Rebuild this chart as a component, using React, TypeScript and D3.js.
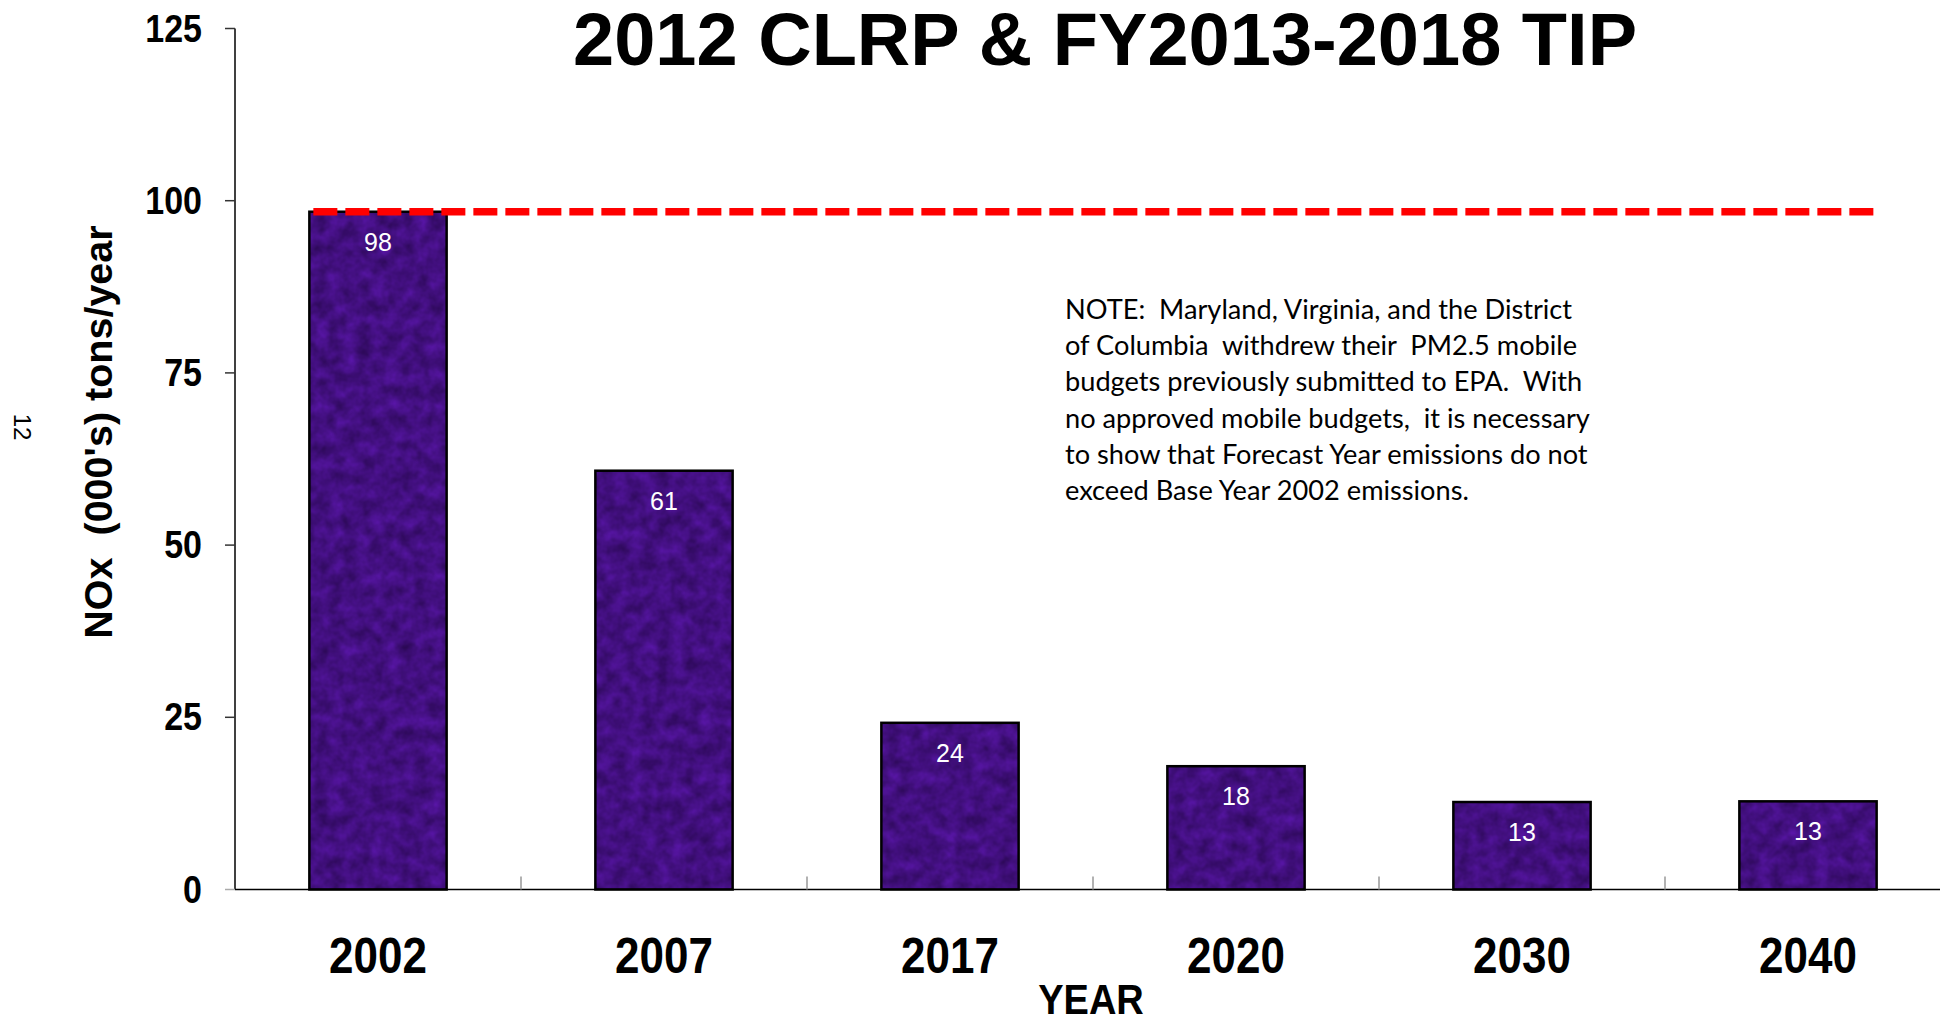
import * as d3 from 'd3';

const YEARS = ['2002', '2007', '2017', '2020', '2030', '2040'];
const NOX = [98.4, 60.8, 24.2, 17.9, 12.7, 12.8];
const BASE_YEAR_LEVEL = 98.4;
const Y_TICKS = [0, 25, 50, 75, 100, 125];
const TITLE = '2012 CLRP & FY2013-2018 TIP';
const NOTE_LINES = [
  'NOTE:  Maryland, Virginia, and the District',
  'of Columbia  withdrew their  PM2.5 mobile',
  'budgets previously submitted to EPA.  With',
  'no approved mobile budgets,  it is necessary',
  'to show that Forecast Year emissions do not',
  'exceed Base Year 2002 emissions.',
];

const W = 1940;
const H = 1019;
const ARIAL = '"Liberation Sans", Arial, sans-serif';

export default function App() {
  const x = d3.scaleBand<string>()
    .domain(YEARS)
    .range([235, 235 + 286 * YEARS.length])
    .paddingInner(0.52)
    .paddingOuter(0.26);
  const y = d3.scaleLinear().domain([0, 125]).range([889.5, 28.5]);
  const step = x.step();
  const x0 = x.range()[0];

  return (
    <svg width={W} height={H} style={{ position: 'absolute', left: 0, top: 0, background: '#fff' }}>
      <defs>
        {/* mottled purple fill, like the office "purple mesh" texture */}
        <filter
          id="purpleTex"
          x="0"
          y="0"
          width="1"
          height="1"
          filterUnits="objectBoundingBox"
          colorInterpolationFilters="sRGB"
        >
          <feTurbulence type="fractalNoise" baseFrequency="0.07" numOctaves="3" seed="11" result="noise" />
          <feColorMatrix
            in="noise"
            type="matrix"
            values="0.2 0 0 0 0.16  0.06 0 0 0 0.03  0.36 0 0 0 0.32  0 0 0 0 1"
            result="col"
          />
          <feComposite in="col" in2="SourceGraphic" operator="in" />
        </filter>
      </defs>

      {/* title */}
      <text x={1105} y={65} textAnchor="middle" fontFamily={ARIAL} fontWeight="bold" fontSize={74}>
        {TITLE}
      </text>

      {/* bars */}
      {YEARS.map((yr, i) => (
        <g key={yr}>
          <rect
            x={x(yr)}
            y={y(NOX[i])}
            width={x.bandwidth()}
            height={y(0) - y(NOX[i])}
            fill="#420f80"
            filter="url(#purpleTex)"
          />
          <rect
            x={x(yr)}
            y={y(NOX[i])}
            width={x.bandwidth()}
            height={y(0) - y(NOX[i])}
            fill="none"
            stroke="#000"
            strokeWidth={2.5}
          />
          <text
            x={(x(yr) as number) + x.bandwidth() / 2}
            y={y(NOX[i]) + 39}
            textAnchor="middle"
            fill="#fff"
            fontFamily={ARIAL}
            fontSize={25}
          >
            {Math.round(NOX[i])}
          </text>
        </g>
      ))}

      {/* y axis */}
      <line x1={235} x2={235} y1={y(125)} y2={y(0)} stroke="#000" strokeWidth={1.5} />
      {Y_TICKS.map((t) => (
        <g key={t}>
          <line x1={225} x2={235} y1={y(t)} y2={y(t)} stroke={t === 0 ? '#aaa' : '#333'} strokeWidth={1.5} />
          <text
            transform={`translate(202,${y(t) + 13}) scale(1,1.12)`}
            textAnchor="end"
            fontFamily={ARIAL}
            fontWeight="bold"
            fontSize={34}
          >
            {t}
          </text>
        </g>
      ))}

      {/* x axis */}
      <line x1={235} x2={W} y1={y(0)} y2={y(0)} stroke="#000" strokeWidth={1.5} />
      {d3.range(1, YEARS.length).map((k) => (
        <line
          key={k}
          x1={x0 + k * step}
          x2={x0 + k * step}
          y1={y(0)}
          y2={y(0) - 13}
          stroke="#999"
          strokeWidth={1.5}
        />
      ))}
      {YEARS.map((yr) => (
        <text
          key={yr}
          transform={`translate(${(x(yr) as number) + x.bandwidth() / 2},973) scale(1,1.15)`}
          textAnchor="middle"
          fontFamily={ARIAL}
          fontWeight="bold"
          fontSize={44}
        >
          {yr}
        </text>
      ))}

      {/* base year level */}
      <line
        x1={x(YEARS[0])}
        x2={(x(YEARS[YEARS.length - 1]) as number) + x.bandwidth()}
        y1={y(BASE_YEAR_LEVEL)}
        y2={y(BASE_YEAR_LEVEL)}
        stroke="#ff0000"
        strokeWidth={7.5}
        strokeDasharray="24 8"
        strokeDashoffset={-4}
      />

      {/* axis titles */}
      <text
        transform="translate(1091,1014) scale(1,1.13)"
        textAnchor="middle"
        fontFamily={ARIAL}
        fontWeight="bold"
        fontSize={38}
      >
        YEAR
      </text>
      <text
        transform="translate(112,432) rotate(-90)"
        textAnchor="middle"
        fontFamily={ARIAL}
        fontWeight="bold"
        fontSize={39.5}
        xmlSpace="preserve"
      >
        NOx  (000's) tons/year
      </text>
      <text transform="translate(14,427) rotate(90)" textAnchor="middle" fontFamily={ARIAL} fontSize={24}>
        12
      </text>

      {/* note */}
      <g fontFamily="Lato, 'Open Sans', sans-serif" fontSize={27.2}>
        {NOTE_LINES.map((ln, i) => (
          <text key={i} x={1065} y={319 + i * 36.2} xmlSpace="preserve">
            {ln}
          </text>
        ))}
      </g>
    </svg>
  );
}
